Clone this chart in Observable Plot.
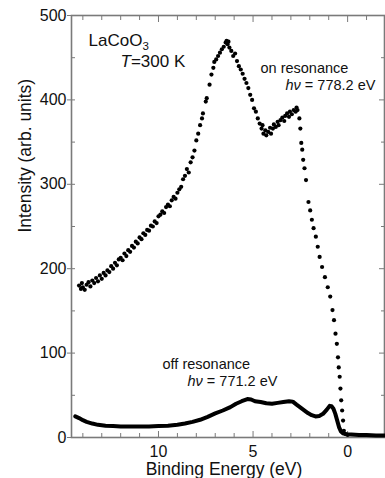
<!DOCTYPE html>
<html>
<head>
<meta charset="utf-8">
<script src="https://cdn.jsdelivr.net/npm/d3@7"></script>
<script src="https://cdn.jsdelivr.net/npm/@observablehq/plot@0.6"></script>
<style>
  html, body { margin: 0; padding: 0; background: #fff; }
  #chart svg { display: block; }
</style>
</head>
<body>
<div id="chart"></div>
<script>
// On-resonance (hν = 778.2 eV): binding energy (eV) and intensity
const onE = [14.2,14.1,14.05,14.0,13.9,13.8,13.7,13.6,13.5,13.4,13.3,13.2,13.1,13.0,12.9,12.8,12.7,12.6,12.5,12.4,12.3,12.2,12.1,12.0,11.9,11.8,11.7,11.6,11.5,11.4,11.3,11.2,11.1,11.0,10.9,10.8,10.7,10.6,10.5,10.4,10.3,10.2,10.1,10.0,9.9,9.8,9.7,9.6,9.5,9.4,9.3,9.2,9.1,9.0,8.9,8.8,8.7,8.6,8.5,8.4,8.3,8.2,8.1,8.0,7.9,7.8,7.7,7.65,7.5,7.45,7.3,7.2,7.1,7.05,6.95,6.85,6.75,6.65,6.55,6.45,6.4,6.35,6.3,6.25,6.15,6.05,5.95,5.85,5.75,5.65,5.55,5.45,5.35,5.25,5.15,5.05,4.95,4.85,4.75,4.65,4.55,4.5,4.45,4.35,4.3,4.2,4.1,4.05,3.95,3.9,3.8,3.7,3.65,3.55,3.45,3.35,3.3,3.2,3.1,3.05,2.95,2.85,2.75,2.7,2.65,2.55,2.5,2.45,2.4,2.35,2.28,2.2,2.07,1.98,1.89,1.8,1.68,1.58,1.48,1.35,1.2,1.05,0.92,0.8,0.72,0.64,0.57,0.51,0.47,0.42,0.38,0.34,0.29,0.24,0.2,0.1,0.0];
const onI = [180,176,183,178,175,181,184,179,186,183,189,185,192,188,195,192,198,196,203,200,207,204,211,213,210,218,215,222,220,227,225,232,230,237,235,242,240,246,245,251,250,256,254,262,264,268,266,273,276,274,281,285,283,290,294,297,306,310,318,314,326,332,340,352,360,370,378,384,398,402,418,430,438,445,448,452,456,460,463,468,470,466,469,462,458,452,455,446,440,436,431,425,420,414,406,400,390,386,378,372,366,370,360,364,358,362,367,360,366,371,368,374,370,376,379,375,381,384,380,386,383,388,386,391,388,378,366,349,341,329,319,305,279,269,258,248,238,226,214,202,190,178,167,151,139,123,111,95,83,72,58,44,32,20,8,4,3];

// Off-resonance (hν = 771.2 eV)
const offE = [14.4,14.2,14.0,13.8,13.5,13.2,12.8,12.4,12.0,11.5,11.0,10.5,10.0,9.5,9.0,8.6,8.2,7.8,7.4,7.0,6.6,6.2,5.9,5.6,5.3,5.1,4.9,4.6,4.3,4.0,3.7,3.4,3.1,2.9,2.7,2.4,2.1,1.9,1.7,1.5,1.3,1.1,0.95,0.85,0.75,0.65,0.55,0.45,0.35,0.25,0.1,-0.2,-0.6,-1.0,-1.5,-1.95];
const offI = [25,23,20.5,18.5,16.5,15,14,13.5,13,13,13,13,13.5,14,15,16.5,18.5,21,24.5,28.5,32,36,40,43,45.5,45,43,42,40.5,40,41,42,43,42.5,39,34,29,26.5,25,25.5,28,33,37.5,37,34,28,20,12,7,5,4,3.5,3,3,2.5,2.5];

// Ticks
const xMajor = [0, 5, 10];
const xMinor = [-1, 1, 2, 3, 4, 6, 7, 8, 9, 11, 12, 13, 14];
const yMajor = [0, 100, 200, 300, 400, 500];
const yMinor = [50, 150, 250, 350, 450];

// Text
const xLabel = "Binding Energy (eV)";
const yLabel = "Intensity (arb. units)";
const sampleLabel = "LaCoO3";
const tempLabel = "T=300 K";
const onLabel = "on resonance";
const onEnergy = "hν = 778.2 eV";
const offLabel = "off resonance";
const offEnergy = "hν = 771.2 eV";

const onData = onE.map((e, i) => ({E: e, I: onI[i]}));
const offData = offE.map((e, i) => ({E: e, I: offI[i]}));

const axisGray = "#7a7a7a";
const ink = "#111";
const font = "'Liberation Sans', Arial, Helvetica, sans-serif";

const note = (t, dx, dy, size) => Plot.text([t], {
  text: d => d, frameAnchor: "top-left", dx, dy,
  textAnchor: "start", lineAnchor: "bottom", fontSize: size, fill: ink
});

const chart = Plot.plot({
  width: 385,
  height: 478,
  marginLeft: 71,
  marginRight: 1,
  marginTop: 15,
  marginBottom: 41,
  style: {fontFamily: font, background: "#fff"},
  x: {domain: [14.6, -1.95], axis: null},
  y: {domain: [0, 500], axis: null},
  marks: [
    Plot.frame({stroke: axisGray, strokeWidth: 1.6}),
    // bottom axis
    Plot.axisX({ticks: xMajor, anchor: "bottom", tickSize: -6, tickPadding: 14, fontSize: 16, stroke: axisGray, fill: ink, label: null, tickFormat: d => String(d)}),
    Plot.axisX({ticks: xMinor, anchor: "bottom", tickSize: -4, tickFormat: () => "", stroke: axisGray, label: null}),
    // top axis
    Plot.axisX({ticks: xMajor, anchor: "top", tickSize: -6, tickFormat: () => "", stroke: axisGray, label: null}),
    Plot.axisX({ticks: xMinor, anchor: "top", tickSize: -4, tickFormat: () => "", stroke: axisGray, label: null}),
    // left axis
    Plot.axisY({ticks: yMajor, anchor: "left", tickSize: 4, tickPadding: 1, fontSize: 16, stroke: axisGray, fill: ink, label: null, tickFormat: d => String(d)}),
    Plot.axisY({ticks: yMajor, anchor: "left", tickSize: -4, tickFormat: () => "", stroke: axisGray, label: null}),
    Plot.axisY({ticks: yMinor, anchor: "left", tickSize: -4, tickFormat: () => "", stroke: axisGray, label: null}),
    // right axis
    Plot.axisY({ticks: yMajor, anchor: "right", tickSize: -6, tickFormat: () => "", stroke: axisGray, label: null}),
    Plot.axisY({ticks: yMinor, anchor: "right", tickSize: -4, tickFormat: () => "", stroke: axisGray, label: null}),
    // axis titles
    Plot.text([xLabel], {text: d => d, frameAnchor: "bottom", dx: -4, dy: 37, lineAnchor: "bottom", fontSize: 17.5, fill: ink}),
    Plot.text([yLabel], {text: d => d, frameAnchor: "left", dx: -46, dy: 6, rotate: -90, lineAnchor: "middle", fontSize: 17.5, fill: ink}),
    // data
    Plot.line(offData, {x: "E", y: "I", stroke: "#000", strokeWidth: 4, curve: "linear"}),
    Plot.dot(onData, {x: "E", y: "I", r: 2.1, fill: "#000", stroke: "none"}),
    // annotations
    note(sampleLabel, 17, 30, 17),
    note(tempLabel, 49, 51.5, 17),
    note(onLabel, 189, 57, 14.5),
    note(onEnergy, 214, 74, 14.5),
    note(offLabel, 91, 353, 14.5),
    note(offEnergy, 116, 370, 14.5)
  ]
});

document.getElementById("chart").append(chart);

// Rich text: subscript and italics
d3.select(chart).selectAll("text").each(function () {
  const t = this.textContent;
  const sel = d3.select(this);
  if (t === sampleLabel) {
    sel.text(null);
    sel.append("tspan").text("LaCoO");
    sel.append("tspan").attr("dy", 4).attr("font-size", 11.5).text("3");
  } else if (t === tempLabel) {
    sel.text(null);
    sel.append("tspan").attr("font-style", "italic").text("T");
    sel.append("tspan").text("=300 K");
  } else if (t === onEnergy || t === offEnergy) {
    sel.text(null);
    sel.append("tspan").attr("font-style", "italic").text("hν");
    sel.append("tspan").text(t.slice(2));
  }
});
</script>
</body>
</html>
